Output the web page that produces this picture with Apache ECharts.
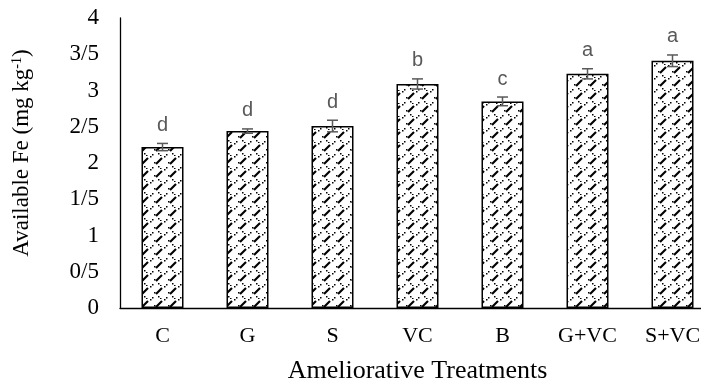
<!DOCTYPE html>
<html>
<head>
<meta charset="utf-8">
<script src="https://cdn.jsdelivr.net/npm/echarts@6/dist/echarts.min.js"></script>
<style>
  html, body { margin: 0; padding: 0; background: #fff; overflow: hidden; }
  #chart { width: 715px; height: 385px; }
</style>
</head>
<body>
<div id="chart"></div>
<script>
// 处理方式（横轴类别）
const categories = ['C', 'G', 'S', 'VC', 'B', 'G+VC', 'S+VC'];
// 有效铁含量 (mg kg-1)
const feValues = [2.22, 2.44, 2.51, 3.09, 2.85, 3.23, 3.41];
// 误差（±）
const feErrors = [0.05, 0.03, 0.08, 0.07, 0.06, 0.07, 0.08];
// 显著性字母
const sigLetters = ['d', 'd', 'd', 'b', 'c', 'a', 'a'];
// 纵轴刻度
const yTicks = [0, 0.5, 1, 1.5, 2, 2.5, 3, 3.5, 4];

/**
 * 柱子的填充花纹
 */
const makePattern = () => {
  const c = document.createElement('canvas');
  c.width = 14;
  c.height = 13;
  const ctx = c.getContext('2d');
  ctx.fillStyle = '#fff';
  ctx.fillRect(0, 0, 14, 13);
  ctx.strokeStyle = '#000';
  ctx.lineWidth = 2.2;
  ctx.beginPath();
  ctx.moveTo(2, 8);
  ctx.lineTo(8, 2);
  ctx.stroke();
  ctx.fillStyle = '#000';
  // 虚线部分
  [[4, 10], [6, 12], [10, 0], [12, 11], [0, 6]].forEach(p => {
    ctx.fillRect(p[0], p[1], 1.5, 1.5);
  });
  return c;
};

const chart = echarts.init(document.getElementById('chart'));

const option = {
  animation: false,
  grid: {
    left: 120,
    top: 18,
    right: 0,
    bottom: 77,
    containLabel: false,
    outerBoundsMode: 'none'
  },
  xAxis: {
    type: 'category',
    data: categories,
    name: 'Ameliorative Treatments',
    nameLocation: 'middle',
    nameGap: 50,
    nameTextStyle: {
      fontFamily: 'Liberation Serif',
      fontSize: 26,
      color: '#000'
    },
    axisLine: { lineStyle: { color: '#000', width: 1.3 } },
    axisTick: { show: false },
    axisLabel: {
      fontFamily: 'Liberation Serif',
      fontSize: 22,
      color: '#000',
      margin: 17
    }
  },
  yAxis: {
    type: 'value',
    min: yTicks[0],
    max: yTicks[yTicks.length - 1],
    interval: 0.5,
    name: '{n|Available Fe (mg kg}{s|-1}{n|)}',
    nameLocation: 'middle',
    nameRotate: 90,
    nameGap: 86,
    nameTextStyle: {
      padding: [0, 0, 0, 20],
      rich: {
        n: { fontFamily: 'Liberation Serif', fontSize: 23, color: '#000' },
        s: { fontFamily: 'Liberation Serif', fontSize: 14, color: '#000', padding: [0, 0, 10, 0] }
      }
    },
    axisLine: { show: true, lineStyle: { color: '#000', width: 1.3 } },
    axisTick: { show: false },
    splitLine: { show: false },
    axisLabel: {
      fontFamily: 'Liberation Serif',
      fontSize: 23,
      color: '#000',
      margin: 21,
      formatter: v => String(v).replace('.', '/')
    }
  },
  series: [
    {
      type: 'bar',
      data: feValues,
      barWidth: 42,
      itemStyle: {
        color: { image: makePattern(), repeat: 'repeat' },
        borderColor: '#000',
        borderWidth: 1.5
      }
    },
    {
      // 误差线
      type: 'custom',
      data: feValues.map((v, i) => [i, v, feErrors[i]]),
      renderItem: (params, api) => {
        const i = api.value(0);
        const v = api.value(1);
        const e = api.value(2);
        const top = api.coord([i, v + e]);
        const bot = api.coord([i, v - e]);
        const style = { stroke: '#595959', lineWidth: 1.5 };
        return {
          type: 'group',
          children: [
            { type: 'line', shape: { x1: top[0], y1: top[1], x2: bot[0], y2: bot[1] }, style },
            { type: 'line', shape: { x1: top[0] - 5.5, y1: top[1], x2: top[0] + 5.5, y2: top[1] }, style },
            { type: 'line', shape: { x1: bot[0] - 5.5, y1: bot[1], x2: bot[0] + 5.5, y2: bot[1] }, style }
          ]
        };
      },
      z: 5
    },
    {
      // 显著性字母
      type: 'custom',
      data: feValues.map((v, i) => [i, v + feErrors[i], sigLetters[i]]),
      renderItem: (params, api) => {
        const pt = api.coord([api.value(0), api.value(1)]);
        return {
          type: 'text',
          x: pt[0],
          y: pt[1] - 8,
          style: {
            text: sigLetters[params.dataIndex],
            fill: '#595959',
            font: '20px "Liberation Sans"',
            align: 'center',
            verticalAlign: 'bottom'
          }
        };
      },
      z: 5
    }
  ]
};

chart.setOption(option);
</script>
</body>
</html>
